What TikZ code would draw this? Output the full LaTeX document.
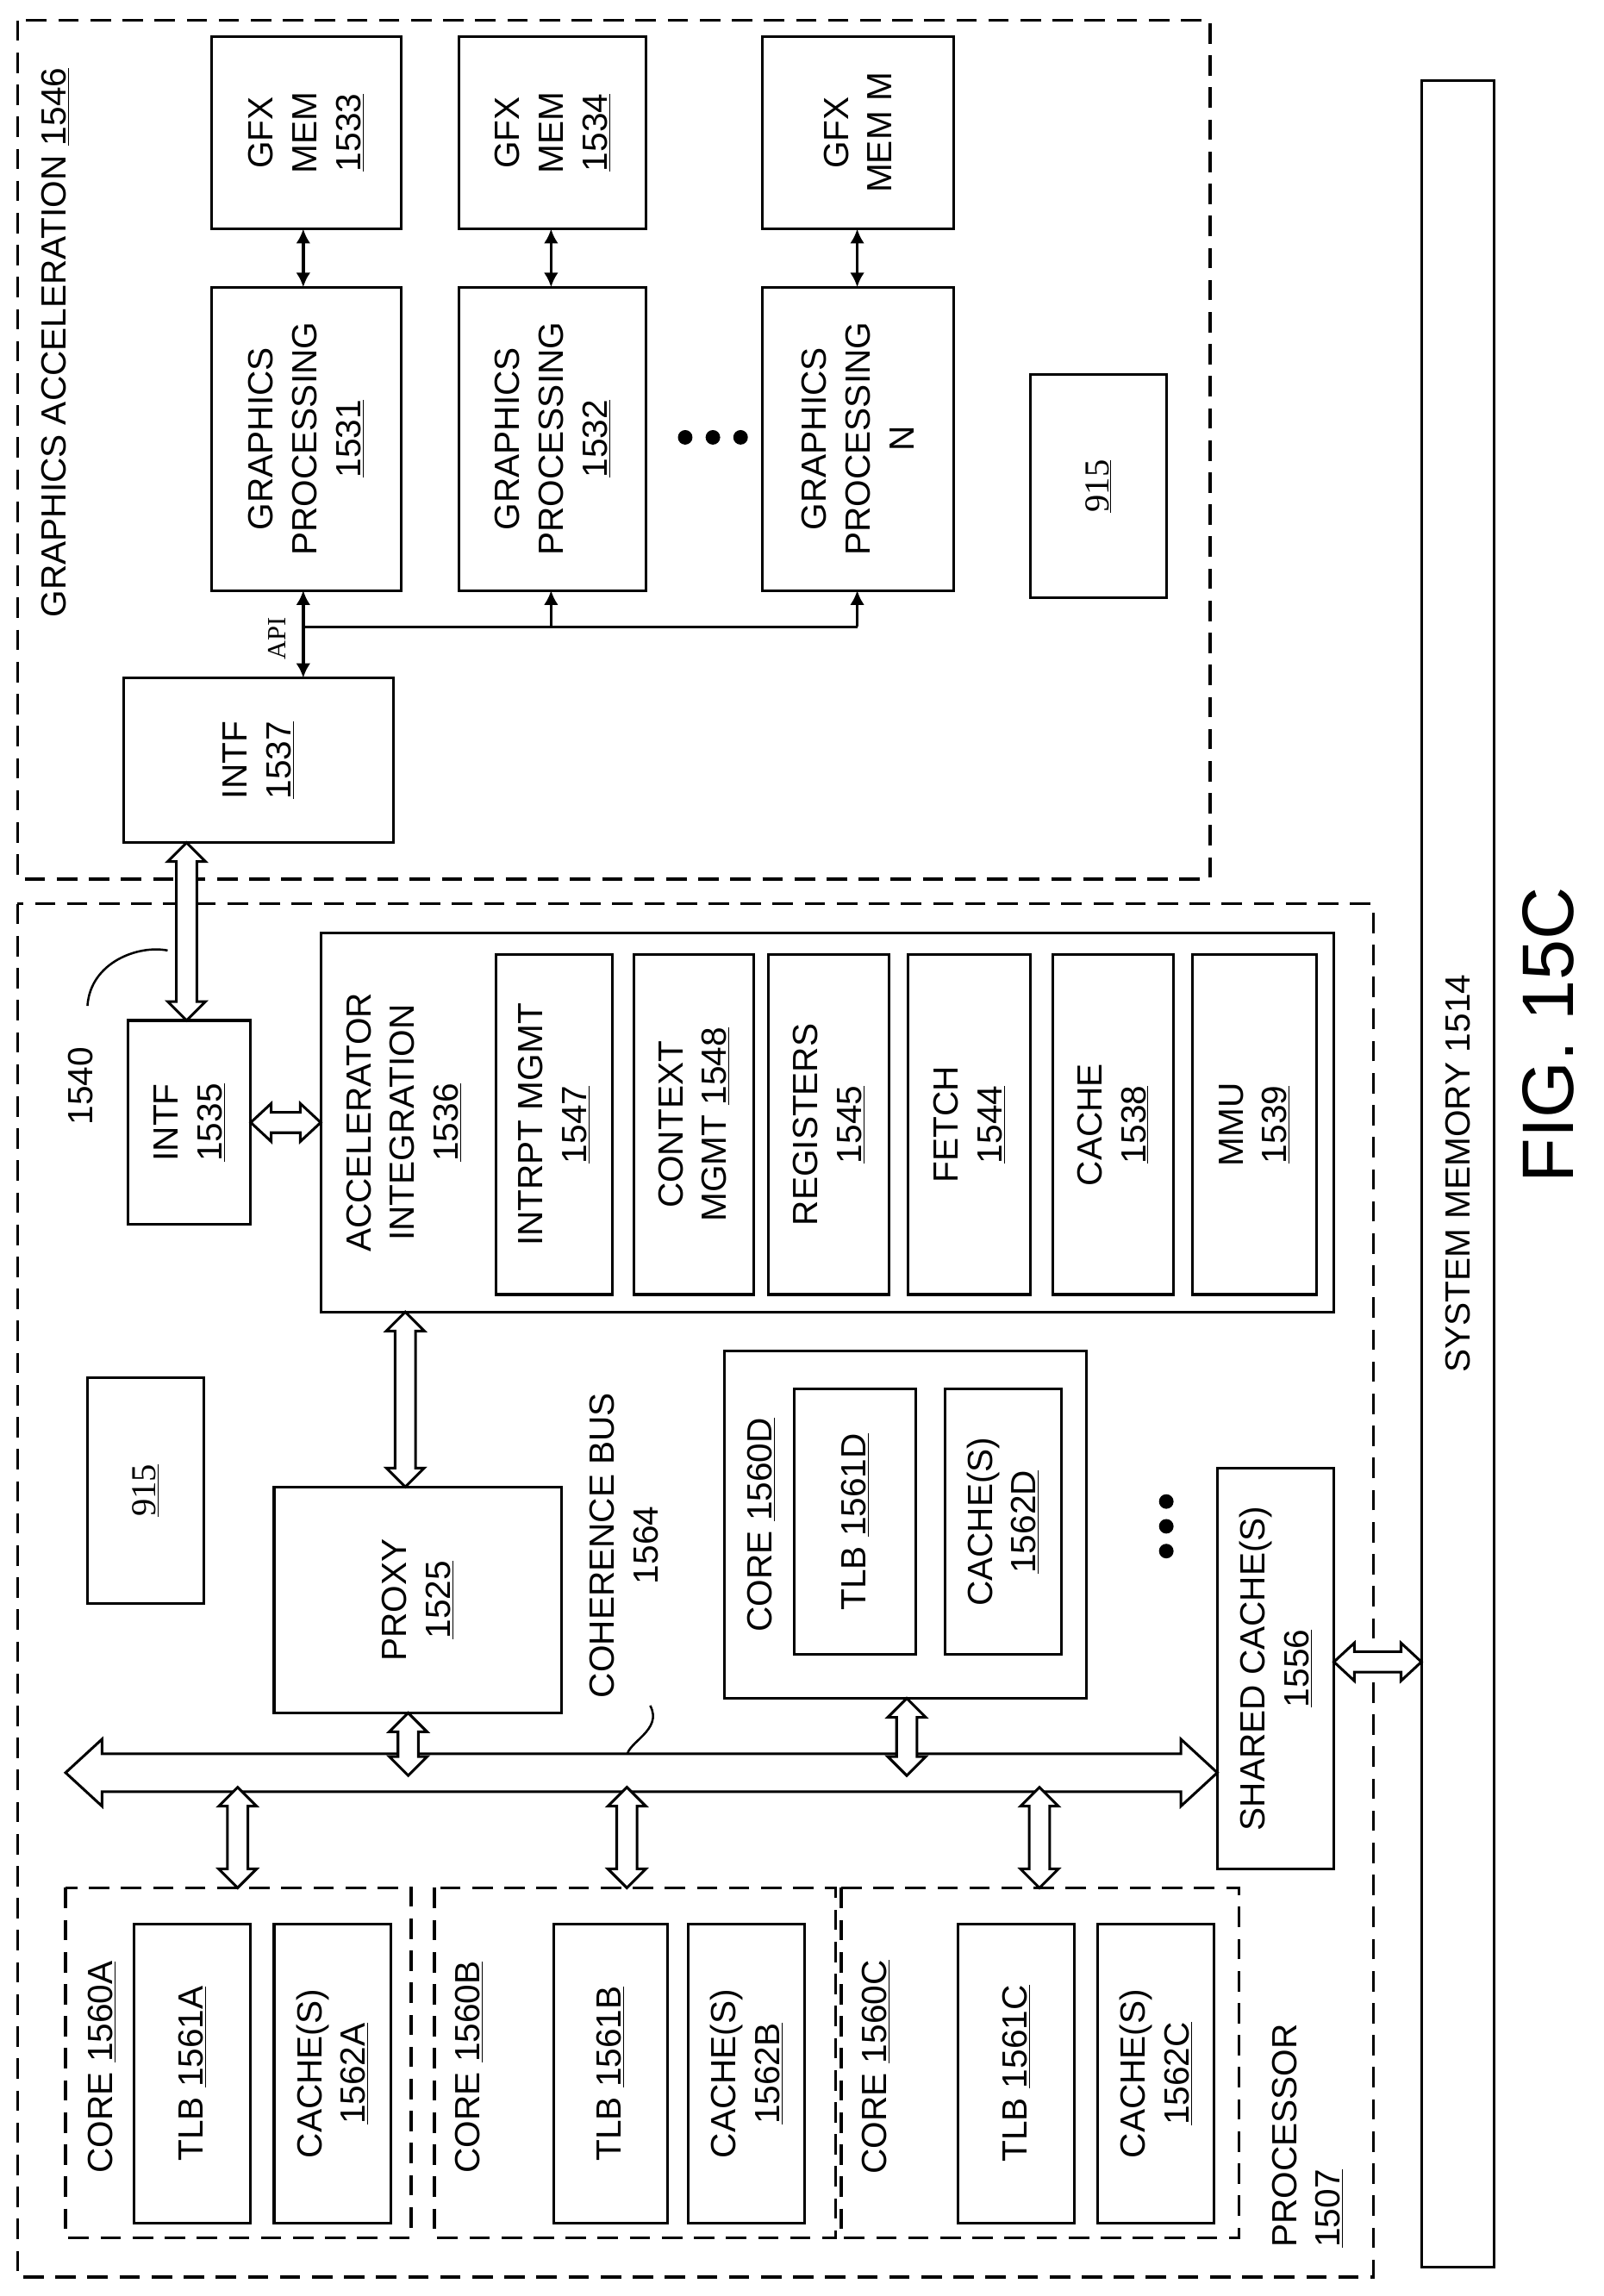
\documentclass[tikz,border=0pt]{standalone}
\usepackage{fontspec}
\setmainfont{Liberation Sans}
\newfontfamily\serifnum{Liberation Serif}
\usetikzlibrary{arrows.meta}
\tikzset{
 bx/.style={draw,line width=1.8pt,inner sep=0},
 dbx/.style={draw,line width=2pt,dash pattern=on 14pt off 8pt},
 lbl/.style={rotate=90,align=center,inner sep=0,font=\fontsize{24}{30}\selectfont},
 hol/.style={draw,line width=1.8pt,fill=white,line join=miter},
 thin/.style={line width=2pt,{Latex[length=10pt,width=10pt]}-{Latex[length=10pt,width=10pt]}}
}
\newcommand\rb[6]{%
 \pgfmathsetmacro\cw{#4-#2}\pgfmathsetmacro\ch{#5-#3}%
 \pgfmathsetmacro\cx{(#2+#4)/2}\pgfmathsetmacro\cy{(#3+#5)/2}%
 \node[bx,minimum width=\cw pt,minimum height=\ch pt] (#1) at (\cx,\cy) {};
 \node[lbl] at (#1) {#6};}
\newcommand\hv[3]{\draw[hol] ({#1-7},{#2+13}) -- ({#1-13},{#2+13}) -- (#1,#2) -- ({#1+13},{#2+13}) -- ({#1+7},{#2+13}) -- ({#1+7},{#3-13}) -- ({#1+13},{#3-13}) -- (#1,#3) -- ({#1-13},{#3-13}) -- ({#1-7},{#3-13}) -- cycle;}
\newcommand\hh[3]{\draw[hol] ({#2+14},{#1-7}) -- ({#2+14},{#1-13}) -- (#2,#1) -- ({#2+14},{#1+13}) -- ({#2+14},{#1+7}) -- ({#3-14},{#1+7}) -- ({#3-14},{#1+13}) -- (#3,#1) -- ({#3-14},{#1-13}) -- ({#3-14},{#1-7}) -- cycle;}
\begin{document}
\begin{tikzpicture}[x=1pt,y=-1pt]
\useasboundingbox (0,0) rectangle (1100,1575);
\draw[dbx] (12,14) rectangle (830,603);
\node[lbl] at (38,235) {GRAPHICS ACCELERATION \underline{1546}};
\rb{m1}{145}{25}{275}{157}{GFX\\MEM\\\underline{1533}}
\rb{m2}{315}{25}{443}{157}{GFX\\MEM\\\underline{1534}}
\rb{m3}{523}{25}{654}{157}{GFX\\MEM M}
\rb{g1}{145}{197}{275}{405}{GRAPHICS\\PROCESSING\\\underline{1531}}
\rb{g2}{315}{197}{443}{405}{GRAPHICS\\PROCESSING\\\underline{1532}}
\rb{g3}{523}{197}{654}{405}{GRAPHICS\\PROCESSING\\N}
\draw[thin] (208,157) -- (208,197);
\draw[thin] (378,157) -- (378,197);
\draw[thin] (588,157) -- (588,197);
\foreach \xx in {470,489,508} \fill (\xx,300) circle (5);
\rb{n915a}{707}{257}{800}{410}{\serifnum\underline{915}}
\rb{i37}{85}{465}{270}{578}{INTF\\\underline{1537}}
\draw[thin] (208,405) -- (208,465);
\draw[line width=2pt] (208,430) -- (588,430);
\draw[line width=2pt,-{Latex[length=10pt,width=10pt]}] (378,430) -- (378,405);
\draw[line width=2pt,-{Latex[length=10pt,width=10pt]}] (588,430) -- (588,405);
\node[lbl,font=\serifnum\fontsize{18}{18}\selectfont] at (190,438) {API};
\draw[dbx] (12,620) rectangle (942,1562);
\node[lbl,align=left] at (897,1465) {PROCESSOR\\\underline{1507}};
\rb{i35}{88}{700}{172}{840}{INTF\\\underline{1535}}
\hv{128}{578}{700}
\node[lbl] at (55,745) {1540};
\draw[line width=1.5pt] (60,690) .. controls (62,660) and (95,648) .. (115,652);
\draw[bx] (220,640) rectangle (915,900);
\node[lbl] at (277,770) {ACCELERATOR\\INTEGRATION\\\underline{1536}};
\rb{a1}{340}{655}{420}{888}{INTRPT MGMT\\\underline{1547}}
\rb{a2}{435}{655}{517}{888}{CONTEXT\\MGMT \underline{1548}}
\rb{a3}{527}{655}{610}{888}{REGISTERS\\\underline{1545}}
\rb{a4}{623}{655}{707}{888}{FETCH\\\underline{1544}}
\rb{a5}{722}{655}{805}{888}{CACHE\\\underline{1538}}
\rb{a6}{818}{655}{903}{888}{MMU\\\underline{1539}}
\hh{770}{172}{220}
\rb{n915b}{60}{945}{140}{1100}{\serifnum\underline{915}}
\rb{px}{188}{1020}{385}{1175}{PROXY\\\underline{1525}}
\hv{278}{900}{1020}
\node[lbl] at (428,1060) {COHERENCE BUS\\1564};
\draw[line width=1.5pt] (446,1170) .. controls (455,1187) and (430,1195) .. (430,1205);
\rb{cd}{497}{927}{745}{1165}{}
\node[lbl] at (522,1046) {CORE \underline{1560D}};
\rb{tD}{545}{953}{628}{1135}{TLB \underline{1561D}}
\rb{cD}{648}{953}{728}{1135}{CACHE(S)\\\underline{1562D}}
\draw[hol] (70,1203) -- (70,1193) -- (45,1216) -- (70,1239) -- (70,1229) -- (810,1229) -- (810,1239) -- (835,1216) -- (810,1193) -- (810,1203) -- cycle;
\hv{280}{1175}{1218}
\hv{622}{1165}{1218}
\hv{163}{1226}{1295}
\hv{430}{1226}{1295}
\hv{713}{1226}{1295}
\foreach \yy in {1030,1047,1064} \fill (800,\yy) circle (5);
\rb{sc}{835}{1007}{915}{1282}{SHARED CACHE(S)\\\underline{1556}}
\hh{1140}{915}{975}
\rb{sm}{975}{55}{1025}{1555}{SYSTEM MEMORY 1514}
\node[lbl,font=\fontsize{50}{50}\selectfont] at (1062,710) {FIG. 15C};
\draw[dbx] (45,1295) rectangle (282,1535);
\node[lbl] at (70,1418) {CORE \underline{1560A}};
\rb{tA}{92}{1320}{172}{1525}{TLB \underline{1561A}}
\rb{cA}{188}{1320}{268}{1525}{CACHE(S)\\\underline{1562A}}
\draw[dbx] (298,1295) rectangle (573,1535);
\node[lbl] at (322,1418) {CORE \underline{1560B}};
\rb{tB}{380}{1320}{458}{1525}{TLB \underline{1561B}}
\rb{cB}{472}{1320}{552}{1525}{CACHE(S)\\\underline{1562B}}
\draw[dbx] (577,1295) rectangle (850,1535);
\node[lbl] at (601,1418) {CORE \underline{1560C}};
\rb{tC}{657}{1320}{737}{1525}{TLB \underline{1561C}}
\rb{cC}{753}{1320}{833}{1525}{CACHE(S)\\\underline{1562C}}
\end{tikzpicture}
\end{document}
